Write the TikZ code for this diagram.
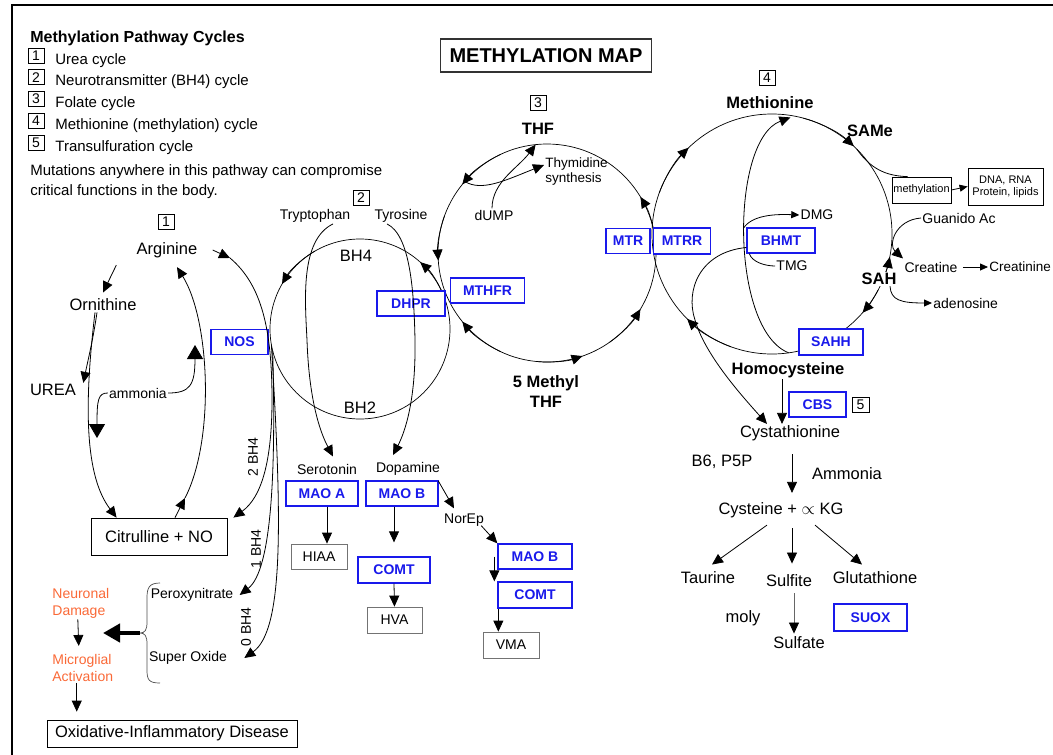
\documentclass[tikz,border=0pt]{standalone}
\usepackage{fontspec}
\setmainfont{Liberation Sans}
\usepackage{amssymb}
\usepackage{tikz}
\usetikzlibrary{arrows.meta}
\usetikzlibrary{positioning,calc}

\definecolor{enzblue}{RGB}{25,25,235}
\definecolor{dmgorange}{RGB}{250,105,55}

\newcommand{\fbig}{\fontsize{16.5}{20}\selectfont}
\newcommand{\fleg}{\fontsize{15}{18}\selectfont}
\newcommand{\fsml}{\fontsize{14}{17}\selectfont}
\newcommand{\ftny}{\fontsize{11}{12}\selectfont}

\begin{document}
\begin{tikzpicture}[x=1pt, y=-1pt, line width=0.8pt,
		>={Triangle[length=11pt,width=10pt]},
		lbl/.style={inner sep=1pt, font=\fbig},
		bld/.style={inner sep=1pt, font=\fbig\bfseries},
		sml/.style={inner sep=1pt, font=\fsml},
		enz/.style={draw=enzblue, line width=1.3pt, text=enzblue, fill=white, font=\fsml\bfseries, minimum height=25pt, inner sep=2pt},
		prod/.style={draw=black!55, fill=white, font=\fsml, minimum height=25pt, inner sep=2pt},
		num/.style={draw, line width=0.7pt, font=\fsml, inner sep=0pt, minimum width=16pt, minimum height=15pt},
		cyc/.style={line width=0.7pt},
		big/.style={-{Triangle[length=14pt,width=16pt]}},
		sm/.style={-{Triangle[length=8pt,width=7pt]}}]
		\useasboundingbox (0,0) rectangle (1053,755);
		\draw[line width=2.5pt] (12,755) -- (12,5) -- (1053,5);

		% legend
		\node[anchor=base west, inner sep=0pt, font=\fontsize{16}{19}\selectfont\bfseries] (legtitle) at (30,42) {Methylation Pathway Cycles};
		\foreach \i/\txt [count=\k from 0] in {1/Urea cycle, 2/Neurotransmitter (BH4) cycle, 3/Folate cycle, 4/Methionine (methylation) cycle, 5/Transulfuration cycle} {
			\node[num] (legbox\i) at (36,55.5+21.8*\k) {\i};
			\node[anchor=base west, inner sep=0pt, font=\fleg] (legtxt\i) at (55,64+21.8*\k) {\txt};
		}
		\node[anchor=base west, inner sep=0pt, font=\fleg] (mut1) at (30,175) {Mutations anywhere in this pathway can compromise};
		\node[anchor=base west, inner sep=0pt, font=\fleg] (mut2) at (30,195) {critical functions in the body.};
		\node[draw=black!80, line width=1.2pt, font=\fontsize{20}{24}\selectfont\bfseries, minimum width=211pt, minimum height=33pt] (title) at (546,55.5) {METHYLATION MAP};

		% cycles
		\coordinate (bhc) at (360,329);
		\coordinate (fc) at (547,253);
		\coordinate (mc) at (772,234);
		\draw[cyc] (bhc) circle (90);
		\draw[cyc] (fc) circle (109);
		\draw[cyc] (mc) circle (120);
		\draw[cyc,->] (bhc) ++(240:90) arc (240:210:90);
		\draw[cyc,->] (bhc) ++(340:90) arc (340:312:90);
		\foreach \a/\b in {245/219, 200/176, 115/141, 95/71, 55/31, 355/329}
			\draw[cyc,->] (fc) ++(\a:109) arc (\a:\b:109);
		\foreach \a/\b in {200/226, 285/313, 22/11, 28/41, 110/135}
			\draw[cyc,->] (mc) ++(\a:120) arc (\a:\b:120);

		% urea cycle
		\node[num] (n1) at (166,222) {1};
		\node[lbl] (arg) at (167,250) {Arginine};
		\node[lbl] (orn) at (103,305) {Ornithine};
		\node[lbl] (urea) at (53,390) {UREA};
		\node[sml, fill=white] (amm) at (138,393) {ammonia};
		\node[enz, minimum width=57pt] (nos) at (239.5,342) {NOS};
		\node[draw, fill=white, lbl, minimum width=136pt, minimum height=37pt] (citr) at (159,536.5) {Citrulline + NO};
		\coordinate (ammA) at (97,438);
		\coordinate (ammB) at (195,345);
		\coordinate (cA) at (185,498);
		\coordinate (cB) at (230,258);
		\draw[->] ([xshift=-19pt,yshift=-6pt]arg.south west) -- ([yshift=5pt]orn.north);
		\draw[->] ([xshift=-6pt]orn.south) .. controls (93,340) and (88,360) .. ([xshift=6pt]urea.north east);
		\draw[->] ([xshift=-8pt]orn.south) .. controls (82,420) and (88,480) .. ([xshift=26pt]citr.north west);
		\draw[big] (amm.west) .. controls (98,393) and (97,400) .. (ammA);
		\draw[big] (amm.east) .. controls (190,393) and (195,385) .. (ammB);
		\draw[->] ([xshift=16pt]citr.north) -- (cA);
		\draw[->] (cA) .. controls (215,440) and (210,320) .. ([xshift=10pt,yshift=-8pt]arg.south);
		\draw[->] ([xshift=14pt]arg.east) -- (cB);
		\draw[->] (cB) .. controls (262,285) and (272,330) .. (272,400) .. controls (272,460) and (262,497) .. ([xshift=6pt]citr.north east);

		% BH4 outputs
		\node[sml] (perox) at (192,595) {Peroxynitrate};
		\node[sml] (supox) at (188,658) {Super Oxide};
		\node[sml, rotate=90] (bhtwo) at (253,457) {2 BH4};
		\node[sml, rotate=90] (bhone) at (256,549) {1 BH4};
		\node[sml, rotate=90] (bhzero) at (246,627) {0 BH4};
		\draw[->] (bhc) ++(166:90) .. controls (276,470) and (272,570) .. ([xshift=5pt]perox.east);
		\draw[->] (bhc) ++(170:90) .. controls (282,520) and (284,630) .. ([xshift=16pt]supox.east);
		\draw[black!70, line width=0.7pt] (160,583) .. controls (149,583) and (147,588) .. (147,598) -- (147,622)
			.. controls (147,630) and (145,633) .. (140,633) coordinate (brtip)
			.. controls (145,633) and (147,636) .. (147,644) -- (147,670) .. controls (147,680) and (149,683) .. (160,683);
		\coordinate (thickend) at (103,633);
		\draw[line width=4.5pt, -{Triangle[length=17pt,width=18pt]}] (brtip) -- (thickend);
		\node[sml, text=dmgorange, align=left, anchor=west] (neur) at (51,603) {Neuronal\\Damage};
		\node[sml, text=dmgorange, align=left, anchor=west] (micro) at (51,668) {Microglial\\Activation};
		\node[draw, lbl, minimum width=250pt, minimum height=27pt] (oxd) at (172,733.5) {Oxidative-Inflammatory Disease};
		\draw[->] ([xshift=-3pt]neur.south) -- ([xshift=-4pt,yshift=7pt]micro.north);
		\draw[->] ([xshift=-6pt]micro.south) -- ($(micro.south |- oxd.north)+(-6,-8)$);

		% neurotransmitter cycle
		\node[num] (n2) at (361,198) {2};
		\node[sml] (tryp) at (315,216) {Tryptophan};
		\node[sml] (tyro) at (401,216) {Tyrosine};
		\node[lbl] (bhfour) at (356,256) {BH4};
		\node[lbl] (bhtwolbl) at (360,408) {BH2};
		\node[enz, minimum width=68pt] (dhpr) at (411,303.5) {DHPR};
		\node[enz, minimum width=74pt] (mthfr) at (487.5,290.5) {MTHFR};
		\node[sml] (sero) at (327,469) {Serotonin};
		\node[sml] (dopa) at (408,469) {Dopamine};
		\node[enz, minimum width=72pt] (maoa) at (322,493.5) {MAO A};
		\node[enz, minimum width=72pt] (maob) at (402,493.5) {MAO B};
		\node[prod, minimum width=56pt] (hiaa) at (319,556.5) {HIAA};
		\node[enz, minimum width=72pt, minimum height=26pt] (comt) at (394,570) {COMT};
		\node[prod, minimum width=55pt, minimum height=26pt] (hva) at (394.5,620) {HVA};
		\node[sml] (norep) at (464,520) {NorEp};
		\node[enz, minimum width=74pt] (maobtwo) at (535,556.5) {MAO B};
		\node[enz, minimum width=74pt, minimum height=26pt] (comttwo) at (535,595) {COMT};
		\node[prod, minimum width=56pt, minimum height=26pt] (vma) at (511,645) {VMA};
		\draw[->] ([xshift=18pt]tryp.south) .. controls (300,240) and (305,300) .. (307,340) .. controls (309,400) and (320,432) .. ([xshift=6pt,yshift=6pt]sero.north);
		\draw[->] ([xshift=-14pt]tyro.south) .. controls (410,235) and (414,290) .. (415,340) .. controls (416,400) and (405,432) .. ([xshift=-15pt,yshift=6pt]dopa.north);
		\draw[->] ([xshift=5pt]maoa.south) -- ($(maoa.south |- hiaa.north)+(5,0)$);
		\draw[->] ([xshift=-8pt]maob.south) -- ($(maob.south |- comt.north)+(-8,-14)$);
		\draw[->] (comt.south) -- (hva.north);
		\draw[->] ([xshift=-3pt,yshift=-4pt]dopa.south east) -- ([xshift=-10pt,yshift=4pt]norep.north);
		\draw[->] ([xshift=-4pt,yshift=2pt]norep.south east) -- (maobtwo.north west);
		\draw[->] ([xshift=-3pt]maobtwo.west) -- ([xshift=-3pt]comttwo.north west);
		\draw[->] ([xshift=1pt]comttwo.south west) -- ($(comttwo.south west |- vma.north)+(1,0)$);

		% folate cycle
		\node[num] (n3) at (538,103) {3};
		\node[bld] (thf) at (538,129) {THF};
		\node[inner sep=1pt, align=left, anchor=west, font=\fontsize{13.5}{15}\selectfont] (thym) at (544,172) {Thymidine\\synthesis};
		\node[sml] (dump) at (494,215) {dUMP};
		\node[bld, align=center] (mthf) at (546,392) {5 Methyl\\THF};
		\node[enz, minimum width=44pt] (mtr) at (628,241) {MTR};
		\node[enz, minimum width=57pt, minimum height=26pt] (mtrr) at (682,241) {MTRR};
		\coordinate (thfin) at ($(fc)+(264:109)$);
		\coordinate (thyl) at ($(fc)+(221:109)$);
		\draw[->] ([xshift=-2pt]dump.north) .. controls (492,182) and (518,168) .. (thfin);
		\draw[->] (thyl) .. controls (482,192) and (506,180) .. ([yshift=7pt]thym.west);

		% methionine cycle
		\node[num] (n4) at (767,78) {4};
		\node[bld] (meth) at (770,103) {Methionine};
		\node[bld] (same) at (870,131) {SAMe};
		\node[draw, fill=white, font=\ftny, inner sep=1pt, minimum width=59pt, minimum height=26pt] (mety) at (921.5,190) {methylation};
		\node[draw, fill=white, font=\ftny, align=center, inner sep=1pt, minimum width=75pt, minimum height=37pt] (dna) at (1005.5,186.5) {DNA, RNA\\Protein, lipids};
		\node[sml] (guan) at (959,218) {Guanido Ac};
		\node[sml] (crea) at (931,267) {Creatine};
		\node[inner sep=1pt, anchor=west, font=\fontsize{13.5}{16}\selectfont] (crtn) at (988,267) {Creatinine};
		\node[bld, fill=white] (sah) at (879,279) {SAH};
		\node[sml, anchor=west] (aden) at (932,303) {adenosine};
		\node[enz, minimum width=68pt] (bhmt) at (781,240.5) {BHMT};
		\node[sml] (dmg) at (817,215) {DMG};
		\node[sml] (tmg) at (792,266) {TMG};
		\node[enz, minimum width=64pt, minimum height=26pt] (sahh) at (831,342) {SAHH};
		\coordinate (samept) at ($(mc)+(315:120)$);
		\coordinate (mbot) at ($(mc)+(82:120)$);
		\coordinate (mtop) at ($(mc)+(279:118)$);
		\draw[->] (mbot) .. controls (730,330) and (730,140) .. (mtop);
		\draw (samept) .. controls (870,168) and (885,176) .. ([xshift=-14pt]mety.north);
		\draw[sm] (mety.east) -- (dna.west);
		\draw[->] (guan.west) .. controls (895,220) and (888,245) .. ([xshift=-28pt,yshift=2pt]crea.north);
		\draw[sm] ([xshift=4pt]crea.east) -- (crtn.west);
		\draw[sm] ([xshift=11pt]sah.south) .. controls (891,300) and (900,303) .. (aden.west);
		\draw[sm] ([xshift=-3pt,yshift=-1pt]bhmt.north west) .. controls (752,215) and (775,214) .. (dmg.west);
		\draw ([xshift=3pt]bhmt.south west) .. controls (752,262) and (765,266) .. (tmg.west);

		% transulfuration
		\node[bld] (homo) at (788,370) {Homocysteine};
		\node[enz, minimum width=57pt] (cbs) at (817.5,404.5) {CBS};
		\node[num, minimum width=17pt] (n5) at (860.5,404.5) {5};
		\node[lbl] (cysta) at (790,433) {Cystathionine};
		\node[lbl] (bsix) at (722,462) {B6, P5P};
		\node[lbl] (ammn) at (847,474) {Ammonia};
		\node[lbl] (cyst) at (781,510) {Cysteine + $\propto$ KG};
		\node[lbl] (taur) at (708,578) {Taurine};
		\node[lbl] (sulfite) at (789,581) {Sulfite};
		\node[lbl] (glut) at (875,578) {Glutathione};
		\node[lbl] (moly) at (743,618) {moly};
		\node[lbl] (sulfate) at (799,643) {Sulfate};
		\node[enz, line width=2pt, minimum width=73pt, minimum height=27pt] (suox) at (870.5,617.5) {SUOX};
		\draw[->] ([xshift=-6pt]homo.south) -- ([xshift=-8pt]cysta.north);
		\draw[->] ([yshift=-7pt]bhmt.west) .. controls (700,252) and (685,290) .. (695,320) .. controls (705,355) and (742,396) .. ([xshift=-23pt]cysta.north);
		\draw[->] ([xshift=2pt,yshift=-12pt]cysta.south) -- ([xshift=11pt,yshift=8pt]cyst.north);
		\draw[->] ([xshift=-14pt,yshift=-6pt]cyst.south) -- ([xshift=4pt,yshift=6pt]taur.north);
		\draw[->] ([xshift=11pt,yshift=-9pt]cyst.south) -- ([xshift=3pt,yshift=10pt]sulfite.north);
		\draw[->] ([xshift=34pt,yshift=-6pt]cyst.south) -- ([xshift=-13pt,yshift=6pt]glut.north);
		\draw[black!60, -{Triangle[length=11pt,width=10pt,color=black]}] ([xshift=5pt,yshift=-5pt]sulfite.south) -- ([xshift=-5pt,yshift=2pt]sulfate.north);
\end{tikzpicture}
\end{document}
